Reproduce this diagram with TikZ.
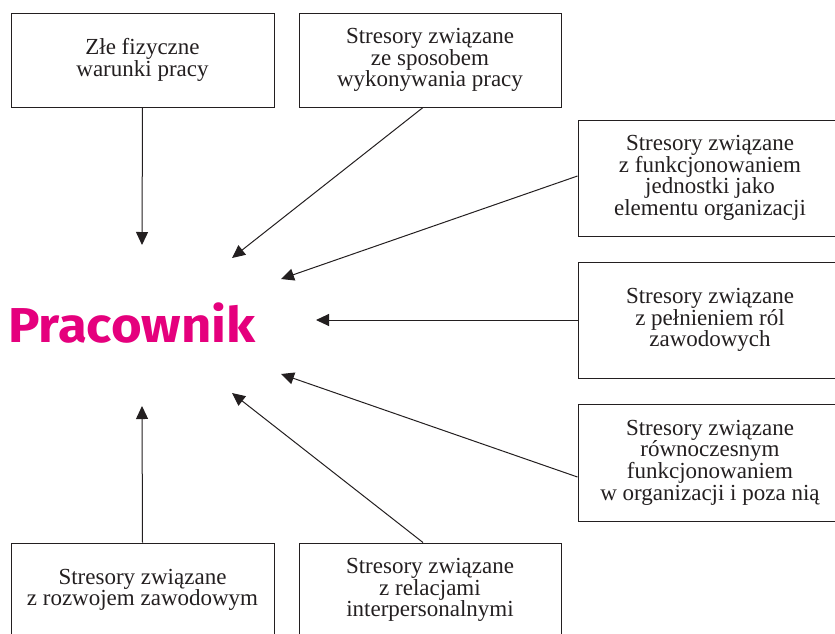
\documentclass[tikz,border=0pt]{standalone}
\usepackage{graphicx}
\usepackage{fontspec}
\setmainfont{Liberation Serif}
\newfontfamily\pfont{Fira Sans}
\usetikzlibrary{arrows.meta}
\definecolor{ink}{HTML}{231F20}
\definecolor{mag}{HTML}{E5007D}
\begin{document}
\begin{tikzpicture}[x=1pt,y=-1pt,
  box/.style={draw=ink, line width=1pt, align=center, text=ink,
    font=\fontsize{23}{21.7}\selectfont, inner sep=0pt},
  arr/.style={draw=ink, line width=1pt, -{Triangle[length=13pt,width=12pt]}}]
\useasboundingbox (0,0) rectangle (835,633);
\clip (0,0) rectangle (835,633);
% boxes
\node[box, minimum width=263pt, minimum height=94pt] (b1) at (142.5,60) {Złe fizyczne\\warunki pracy};
\node[box, minimum width=262pt, minimum height=94pt] (b2) at (430,60) {Stresory związane\\ze sposobem\\wykonywania pracy};
\node[box, minimum width=264pt, minimum height=116pt] (r1) at (710,178) {Stresory związane\\z funkcjonowaniem\\jednostki jako\\elementu organizacji};
\node[box, minimum width=264pt, minimum height=116pt] (r2) at (710,320) {Stresory związane\\z pełnieniem ról\\zawodowych};
\node[box, minimum width=264pt, minimum height=117pt] (r3) at (710,462.5) {Stresory związane\\równoczesnym\\funkcjonowaniem\\w organizacji i poza nią};
\node[box, minimum width=263pt, minimum height=94pt] (b3) at (142.5,590) {Stresory związane\\z rozwojem zawodowym};
\node[box, minimum width=262pt, minimum height=94pt] (b4) at (430,590) {Stresory związane\\z relacjami\\interpersonalnymi};
% centre
\node[text=mag, inner sep=0pt, anchor=base west, font=\pfont\bfseries\fontsize{49}{49}\selectfont] (p) at (8,342) {\scalebox{1.075}[1]{Pracownik}};
% targets
\coordinate (t1) at (142,245);
\coordinate (t2) at (232,258);
\coordinate (t3) at (281,279);
\coordinate (t4) at (316,320);
\coordinate (t5) at (281,374);
\coordinate (t6) at (232,393);
\coordinate (t7) at (142,406);
% arrows
\draw[arr] (b1.south) -- (t1);
\draw[arr] ([xshift=-7pt]b2.south) -- (t2);
\draw[arr] ([yshift=2pt]r1.west) -- (t3);
\draw[arr] (r2.west) -- (t4);
\draw[arr] ([yshift=-14.5pt]r3.west) -- (t5);
\draw[arr] ([xshift=-7pt]b4.north) -- (t6);
\draw[arr] (b3.north) -- (t7);
\end{tikzpicture}
\end{document}
